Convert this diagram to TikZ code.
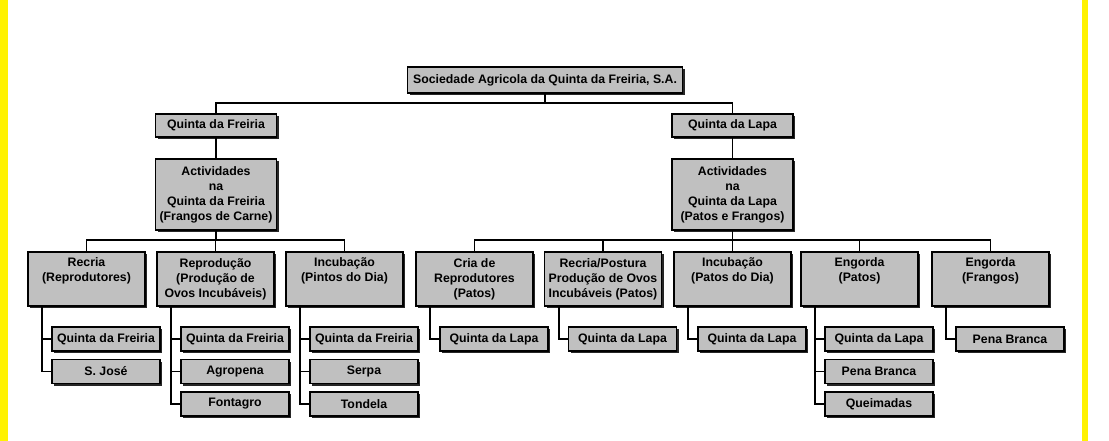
\documentclass[tikz,border=0pt]{standalone}
\usepackage{fontspec}
\setmainfont{Liberation Sans}
\usetikzlibrary{shadows}
\definecolor{boxgray}{RGB}{192,192,192}
\begin{document}
\begin{tikzpicture}[x=1pt,y=-1pt,
  box/.style={draw=black, line width=1.5pt, fill=boxgray, inner sep=2pt,
    align=center, font=\bfseries\fontsize{12.3pt}{15pt}\selectfont,
    drop shadow={shadow xshift=2pt, shadow yshift=-2pt, opacity=1, fill=black!85}},
  lvl1/.style={box, minimum width=121pt, minimum height=23pt},
  lvl2/.style={box, minimum width=121pt, minimum height=71pt},
  lvl3/.style={box, minimum width=117pt, minimum height=54pt},
  leaf/.style={box, minimum width=108pt, minimum height=24pt},
  conn/.style={draw=black, line width=1.6pt}]
\useasboundingbox (0,0) rectangle (1109,441);
\fill[white] (0,0) rectangle (1109,441);
\fill[yellow] (0,0) rectangle (8,441);
\fill[yellow] (1082,0) rectangle (1088,441);

\coordinate (bus0) at (0,103);
\coordinate (busL) at (0,240);

% root
\node[box, minimum width=275pt, minimum height=26pt] (root) at (545,80) {Sociedade Agricola da Quinta da Freiria, S.A.};

% level 1
\node[lvl1] (qf) at (216,125.5) {Quinta da Freiria};
\node[lvl1] (ql) at (732.5,125.5) {Quinta da Lapa};

% level 2
\node[lvl2] (af) at (216,194.5) {Actividades\\na\\Quinta da Freiria\\(Frangos de Carne)};
\node[lvl2] (al) at (732.5,194.5) {Actividades\\na\\Quinta da Lapa\\(Patos e Frangos)};

% level 3
\node[lvl3] (r1) at (86.5,279) {Recria\\(Reprodutores)\\\strut};
\node[lvl3] (r2) at (215.5,279) {Reprodução\\(Produção de\\Ovos Incubáveis)};
\node[lvl3] (r3) at (344.5,279) {Incubação\\(Pintos do Dia)\\\strut};
\node[lvl3] (r4) at (474.5,279) {Cria de\\Reprodutores\\(Patos)};
\node[lvl3] (r5) at (603,279) {Recria/Postura\\Produção de Ovos\\Incubáveis (Patos)};
\node[lvl3] (r6) at (732.5,279) {Incubação\\(Patos do Dia)\\\strut};
\node[lvl3] (r7) at (859.5,279) {Engorda\\(Patos)\\\strut};
\node[lvl3] (r8) at (990.5,279) {Engorda\\(Frangos)\\\strut};

% leaves
\node[leaf, anchor=west] (c11) at ([xshift=24pt]r1.west |- 0,339) {Quinta da Freiria};
\node[leaf, anchor=west] (c12) at ([xshift=24pt]r1.west |- 0,371.5) {S. José};
\node[leaf, anchor=west] (c21) at ([xshift=24pt]r2.west |- 0,339) {Quinta da Freiria};
\node[leaf, anchor=west] (c22) at ([xshift=24pt]r2.west |- 0,371.5) {Agropena};
\node[leaf, anchor=west] (c23) at ([xshift=24pt]r2.west |- 0,404) {Fontagro};
\node[leaf, anchor=west] (c31) at ([xshift=24pt]r3.west |- 0,339) {Quinta da Freiria};
\node[leaf, anchor=west] (c32) at ([xshift=24pt]r3.west |- 0,371.5) {Serpa};
\node[leaf, anchor=west] (c33) at ([xshift=24pt]r3.west |- 0,404) {Tondela};
\node[leaf, anchor=west] (c41) at ([xshift=24pt]r4.west |- 0,339) {Quinta da Lapa};
\node[leaf, anchor=west] (c51) at ([xshift=24pt]r5.west |- 0,339) {Quinta da Lapa};
\node[leaf, anchor=west] (c61) at ([xshift=24pt]r6.west |- 0,339) {Quinta da Lapa};
\node[leaf, anchor=west] (c71) at ([xshift=24pt]r7.west |- 0,339) {Quinta da Lapa};
\node[leaf, anchor=west] (c72) at ([xshift=24pt]r7.west |- 0,371.5) {Pena Branca};
\node[leaf, anchor=west] (c73) at ([xshift=24pt]r7.west |- 0,404) {Queimadas};
\node[leaf, anchor=west] (c81) at ([xshift=24pt]r8.west |- 0,339) {Pena Branca};

% connectors
\draw[conn] (root.south) -- (root.south |- bus0) -| (qf.north);
\draw[conn] (root.south |- bus0) -| (ql.north);
\draw[conn] (qf.south) -- (af.north);
\draw[conn] (ql.south) -- (al.north);
\foreach \c in {r1,r2,r3} {\draw[conn] (af.south) -- (af.south |- busL) -| (\c.north);}
\foreach \c in {r4,r5,r6,r7,r8} {\draw[conn] (al.south) -- (al.south |- busL) -| (\c.north);}
\foreach \p/\c in {r1/c11,r1/c12,r2/c21,r2/c22,r2/c23,r3/c31,r3/c32,r3/c33,r4/c41,r5/c51,r6/c61,r7/c71,r7/c72,r7/c73,r8/c81}
  {\draw[conn] ([xshift=15pt]\p.south west) |- (\c.west);}
\end{tikzpicture}
\end{document}
